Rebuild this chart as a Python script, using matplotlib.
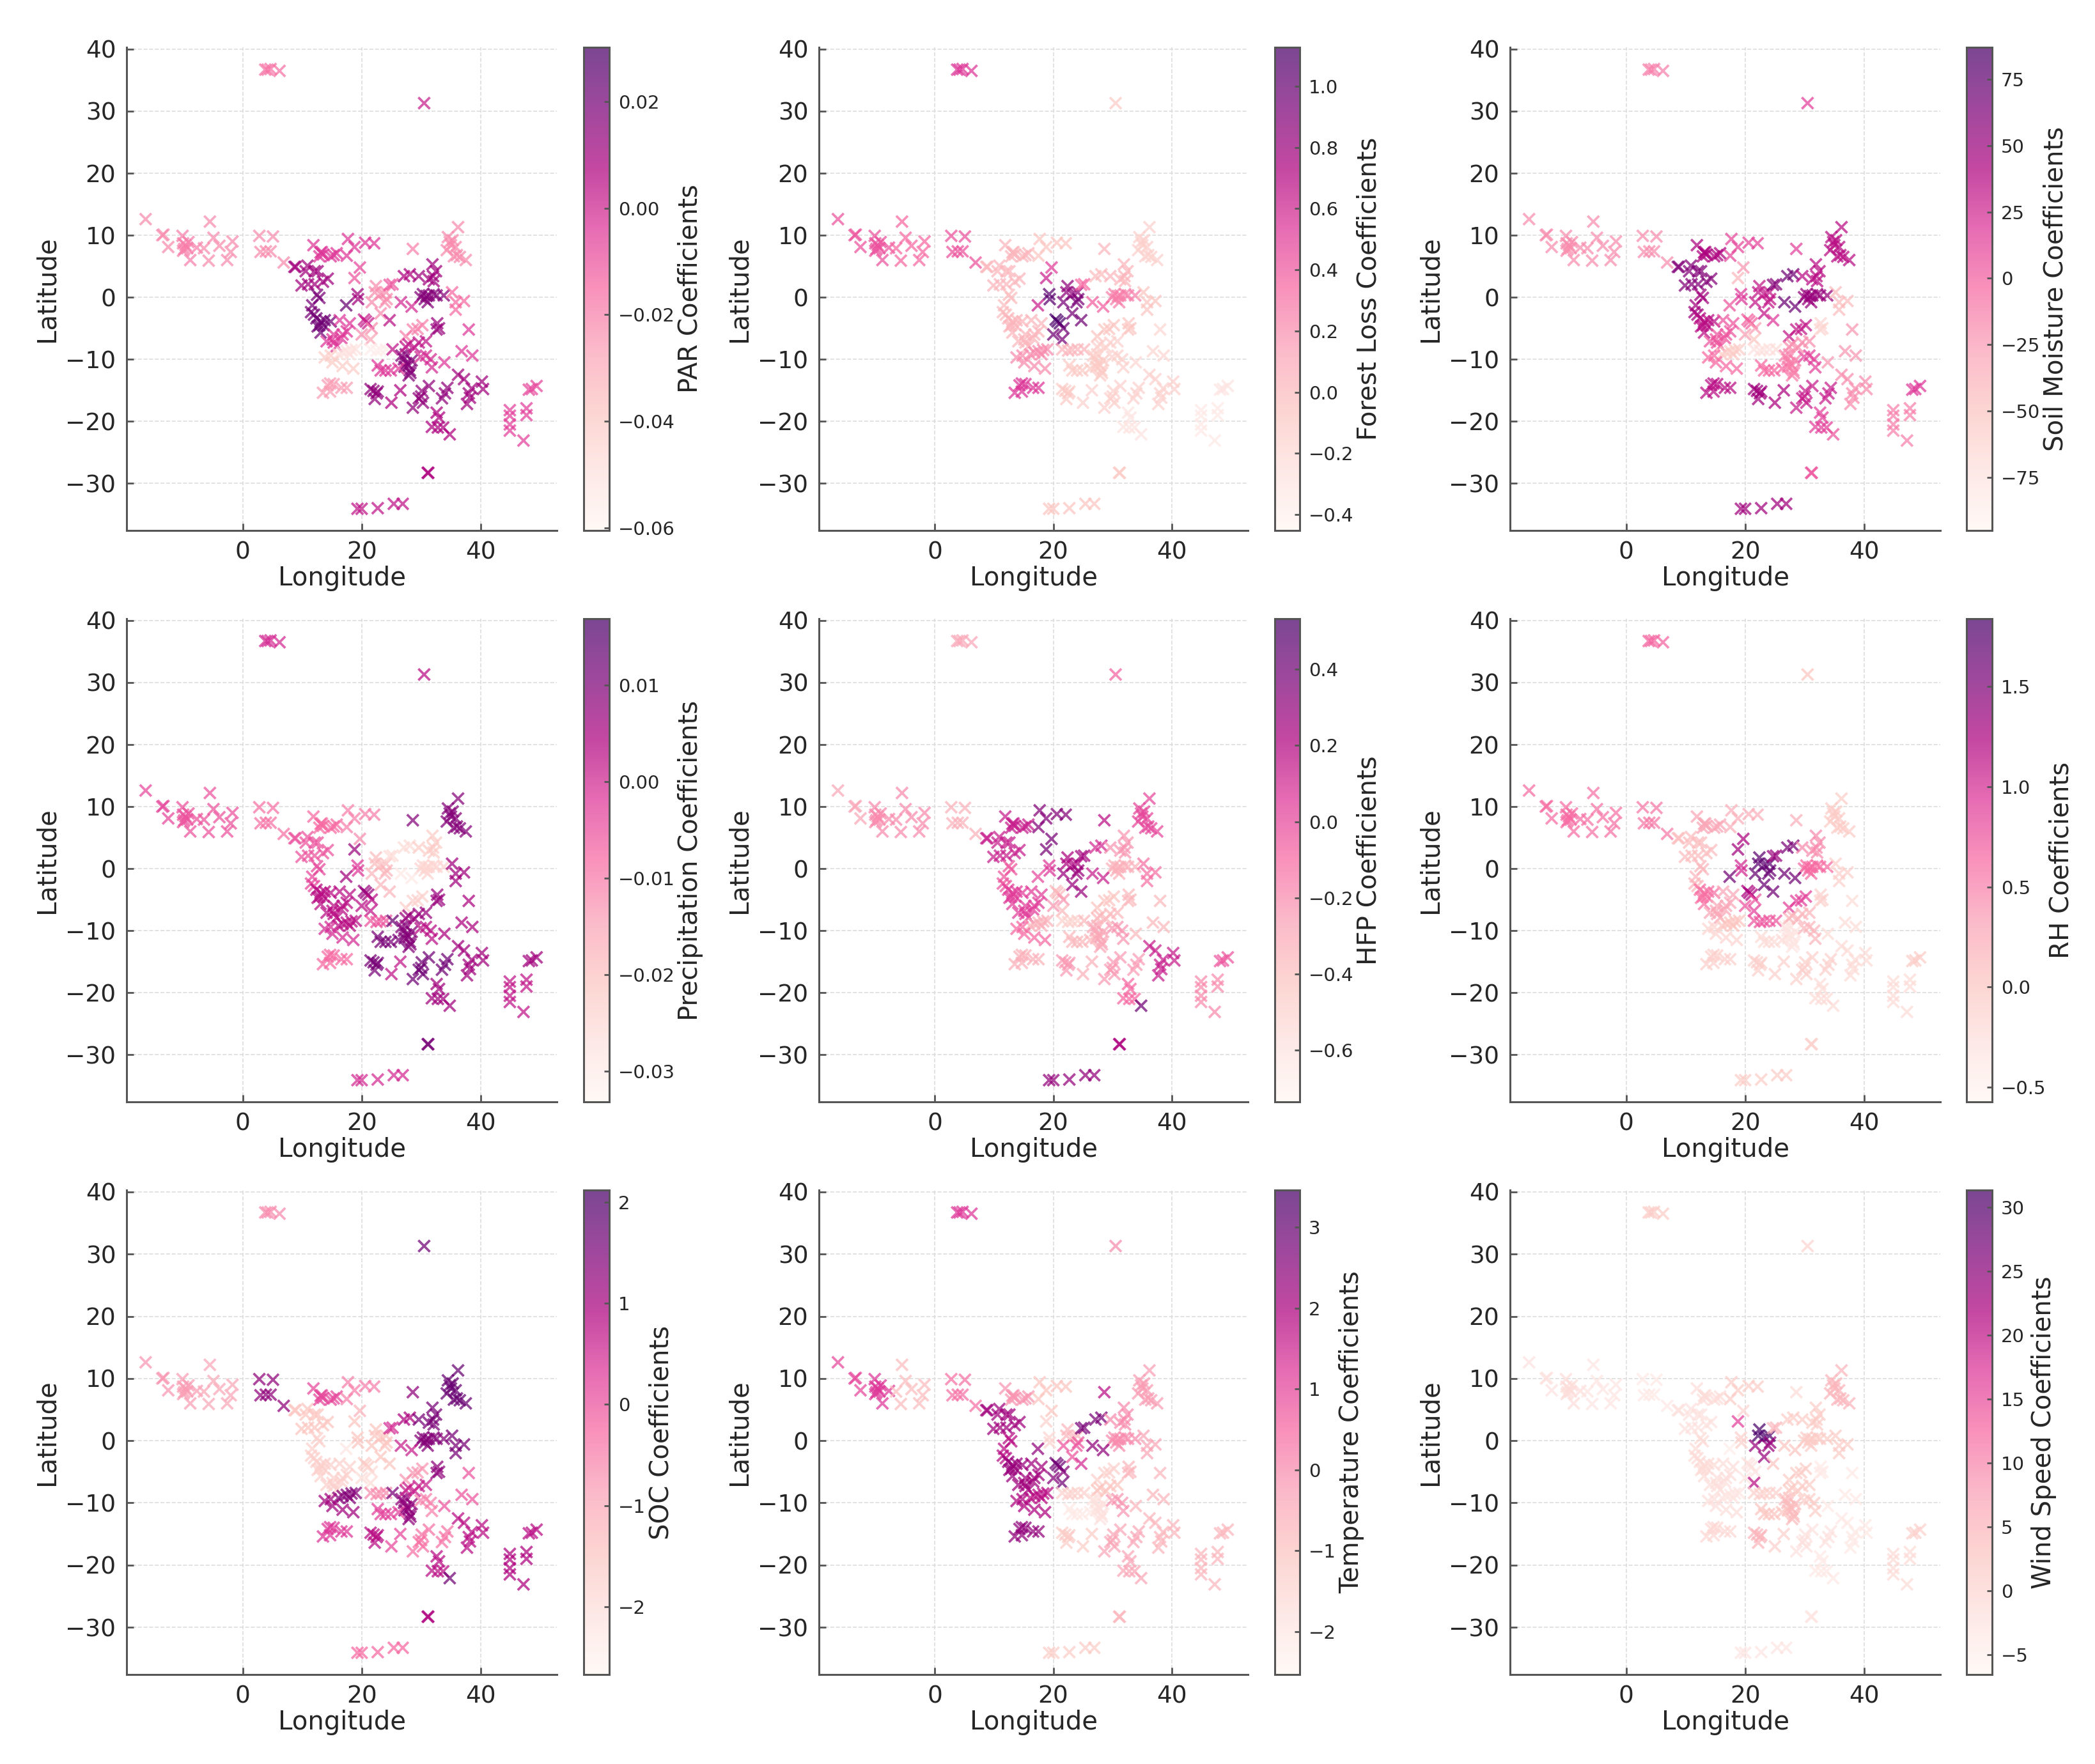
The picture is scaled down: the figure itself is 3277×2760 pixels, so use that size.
#!/bin/env python3

import matplotlib
matplotlib.use('Agg')
import matplotlib.pyplot as plt
import numpy as np

# sites, grouped by area; one coefficient per area in every panel (estimated from the colours)
LON = [
    [3.8, 4.2, 4.7, 6.2], [30.5], [-16.3, -13.5, -13.3, -12.5],
    [-10.1, -9.6, -9.8, -9.3, -9.1, -10, -8.8, -7.7, -10],
    [-6.5, -5.7, -5.5, -4.9, -3.9, -1.7, -2.0, -2.6], [2.8, 5.1, 3, 3.9, 4.7, 6.9],
    [8.9, 8.7, 10.9, 10.6, 12.1, 12.6, 9.9, 12.1, 14.3, 13.5, 11], [12.5, 12.9, 11.5, 11.7, 12],
    [12.4, 13.1, 13.8, 12.9, 13.6, 12.6, 14.8, 13.1],
    [16.3, 18, 16.8, 15.3, 14.1, 15.3, 15.1, 15.8, 16.6, 17.5], [16.8, 17.5, 18.3, 19, 16.1, 18],
    [13.8, 15.1, 16.8, 18.6, 14.8], [14.7, 14.3, 15.3, 13.5, 14.7, 16.6, 17.5],
    [11.9, 13.1, 13.3, 12.9, 13.5, 14.8, 15.3, 15.8], [17.5, 17.7, 18.8, 20.6, 22.1],
    [19.7], [18.8], [19.3, 19.4], [17.4], [22.4, 22.2, 23.2, 24.1], [21.7, 24.2, 23.9, 23.2],
    [24.7], [25.2, 24.7], [20.4, 20.7, 21.1], [21.7, 20], [21.5], [21.5, 22.5, 23.2, 24.1], [25.2],
    [27.1, 27.9, 27.4, 28.4, 27.9, 28.1, 26.7, 27.5, 27.2, 28.2], [22.7, 23.2, 24.9, 26.2, 24],
    [27.4, 28.6, 30.2, 29.4], [27.9, 29.6, 30.8, 28.9, 27.4], [30.8, 31.6, 31.8, 29.9],
    [32.7, 33, 32.6], [38, 36.8, 38.6, 33.9],
    [29.9, 30.6, 31.3, 32.1, 31.1, 30.3, 32.6, 33.8, 30.9], [26.6, 28.4], [27.1, 28.1],
    [29.6, 31.3, 32.1, 31.9, 32.5, 32], [28.6],
    [36.2, 34.5, 34.8, 35.3, 34.3, 35, 35.8, 36, 35.5, 37.5, 36.5], [35.2, 35.8, 37.2, 35.8],
    [36.2, 37.2, 40.2, 40.4, 38.5, 38, 38.2, 37.7],
    [34.4, 33.5, 34, 31.3, 30.1, 29.6, 30.3, 28.6, 30], [26.5, 25], [21.5, 22.7, 22.5, 22.2, 22],
    [32.6, 33, 31.8, 32.8, 33.7], [34.8], [44.9, 44.9, 44.9, 44.9, 47.7, 47.7, 47.2],
    [48.1, 48.6, 49.4], [31.2, 31.1], [19.3, 20, 22.7, 25.4, 26.9],
]
LAT = [
    [36.7, 36.7, 36.8, 36.5], [31.3], [12.6, 10, 10.1, 8.1],
    [9.9, 8.4, 7.8, 7.9, 8.9, 8.7, 6.0, 8.0, 7.5],
    [7.9, 5.9, 12.2, 9.6, 8.3, 9, 7.3, 6.0], [9.9, 9.8, 7.3, 7.4, 7.4, 5.6],
    [4.9, 4.9, 5.1, 4.2, 4.2, 4.2, 1.9, 2.1, 3.0, 2.5, 2.1], [0.4, -0.1, -2.4, -1.3, -2.8],
    [-3.4, -3.9, -3.7, -4.5, -4.5, -4.7, -3.9, -5.7],
    [-3.7, -4.2, -6, -6, -7.1, -7.3, -6.8, -7.9, -6.6, -5.5], [-8.9, -8.7, -8.5, -8.4, -9.2, -9.2],
    [-9.7, -10.5, -11.1, -11.5, -9.4], [-13.9, -14.2, -14, -15.4, -15.2, -14.6, -14.6],
    [8.4, 7.2, 7.3, 6.6, 6.9, 6.6, 6.8, 7.1], [6.7, 9.4, 8.1, 8.8, 8.7],
    [4.8], [3.1], [0.5, -0.3], [-1.3], [1.8, 0.8, 0.5, 0.8], [-0.8, -0.3, -0.8, -2.6],
    [-3.7], [2.1, 2], [-3.6, -3.9, -4.2], [-5, -6], [-6.8], [-8.4, -8.6, -8.5, -8.4], [-8.4],
    [-10, -11, -9.2, -10.2, -12.6, -11.8, -9.4, -10.6, -11.2, -12.2], [-11, -11.8, -11.8, -11.5, -11.8],
    [-6.3, -5.2, -4.5, -5.1], [-7.6, -7.3, -7.1, -8.1, -8], [-9.4, -10, -11.3, -9.6],
    [-4.2, -5, -5.2], [-5.2, -8.7, -9.4, -10.5],
    [0, -0.3, 0.3, 0.5, -0.8, 0.5, 0.3, 0.3, 0.2], [-0.8, -1.5], [3.4, 3.7],
    [3.4, 2.9, 2.6, 5.3, 4.2, 3.4], [7.8],
    [11.3, 9.7, 8.9, 9.2, 7.6, 8.4, 8.1, 6.8, 6.6, 6, 6.5], [0.8, -0.8, -0.6, -2],
    [-12.5, -13.2, -13.6, -14.8, -14.7, -15.5, -16.2, -17.2],
    [-14.6, -16.3, -15.5, -14.3, -15.1, -16.3, -17, -17.8, -16], [-15, -17], [-14.8, -15.2, -15.5, -16.4, -15.1],
    [-18.6, -19.4, -20.9, -21, -21], [-22.1], [-18.2, -19.1, -20.5, -21.5, -17.9, -19, -23.1],
    [-14.9, -14.8, -14.3], [-28.3, -28.3], [-34.1, -34.1, -34, -33.3, -33.3],
]

PAR = [-.0170, .0012, -.0224, -.0197, -.0224, -.0224, .0102, .0193, .0211, -.0043, -.0496, -.0405, -.0260,
       -.0043, -.0043, -.0079, -.0106, .0102, .0229, -.0224, -.0224, .0048, -.0106, .0012, -.0224, -.0288,
       -.0560, .0030, .0166, -.0043, -.0197, .0030, -.0015, .0121, -.0043, .0166, -.0015, .0075, .0102,
       -.0197, -.0224, -.0152, .0102, .0139, .0075, .0139, .0075, .0075, -.0061, -.0079, .0075, .0030]
FOREST_LOSS = [.53, -.10, .42, .42, .34, .42, .02, -.01, .02, .02, .21, .21, .53, .02, -.06, .50, .62, 1.05, .62,
               .84, .94, .97, .34, 1.12, .97, .94, .02, .02, -.10, -.10, -.06, -.14, -.14, -.06, -.18, .26, .37,
               -.01, .02, .02, -.14, -.06, -.14, -.14, -.14, -.10, -.29, -.29, -.33, -.29, -.10, -.06]
SOIL_MOISTURE = [-13, 14, -19, -19, -19, -19, 60, 47, 36, 5, -55, -4, 36, 42, 11, -22, -40, 18, 5, 32, 32, 18, 60, 0,
                 -26, -49, -73, -68, -13, -4, 32, -19, 14, -62, -22, 51, 72, 69, 36, 14, 36, -44, -19, 29, 42, 47,
                 14, 5, -13, 18, 5, 47]
PRECIP = [-.0006, .0029, -.0041, -.0056, -.0056, -.0092, -.0056, -.0041, .0029, .0029, .0029, -.0006, -.0082,
          -.0082, -.0107, -.0122, .0069, -.0021, .0059, -.0192, -.0182, -.0182, -.0257, .0069, .0029, .0019,
          -.0056, .0129, .0094, .0109, -.0232, .0069, .0029, .0069, .0044, -.0242, -.0292, -.0257, -.0222, .0094,
          .0094, .0059, .0059, .0119, .0019, .0109, .0059, .0059, .0019, .0059, .0109, -.0006]
HFP = [-.29, -.08, -.29, -.20, -.20, -.33, .13, -.04, .03, .03, -.33, -.10, -.33, .13, .34, .38, .38, .05, 0.0, .22,
       .28, .28, .25, -.36, -.23, -.36, -.48, -.36, -.29, -.36, -.42, -.36, -.23, -.36, -.36, -.33, .13, .09, -.23,
       .18, 0.0, -.13, .13, -.25, -.33, -.25, -.10, .41, -.20, -.04, .22, .30]
RH = [.66, .03, .62, .62, .58, .55, .10, .15, .58, .27, .03, -.14, -.09, .27, .20, 1.24, 1.31, 1.0, 1.60, 1.72, 1.65,
      1.60, 1.36, 1.24, .75, .87, .75, .75, -.33, -.21, .87, .15, .15, -.09, -.21, .63, 1.60, 1.55, .44, .20, -.04,
      -.09, -.21, -.09, -.09, -.09, -.21, -.21, -.21, -.04, -.09, -.04]
SOC = [-.66, 1.64, -.75, -.85, -.99, 1.26, -1.47, -1.71, -1.71, -1.71, 1.40, 1.07, .30, .11, -.51, -1.14, -1.47, -1.47,
       -2.19, -1.47, -1.47, -1.47, .44, -1.62, -1.95, -1.95, -.66, 1.55, 1.26, .20, -.75, .59, -.51, 1.26, -.04, 1.40,
       .59, .92, 1.55, 1.26, 1.74, 1.55, .78, -.37, .11, .78, .78, 1.64, .92, .78, .92, -.27]
TEMPERATURE = [1.18, -.01, .94, 1.18, -.85, .35, 2.14, 1.78, 2.26, 2.14, 1.78, 1.96, 2.38, -.13, -1.03, -1.03, -1.33,
               -1.45, 2.38, -.73, .76, 1.36, 2.74, 2.86, 2.56, 2.86, -1.33, -1.33, -1.81, -2.05, -1.33, -1.03, -.13,
               -.73, -.73, -.01, 2.38, 2.74, -.01, 1.78, -.25, -.43, -.73, -.43, -1.21, -1.21, -.43, -.43, -.73, -.73,
               -.73, -1.21]
WIND_SPEED = [1.8, .3, -2.0, -1.3, -2.8, -3.5, -2.0, -.9, -.9, -1.6, -2.8, -1.6, -.1, -1.3, 1.8, .3, 16.2, 1.0, -4.7,
              31.3, 23.8, 2.9, 4.8, -2.0, -2.8, 20.7, 1.0, 1.0, 4.1, 2.9, 1.8, 1.8, 1.8, -3.5, -3.5, 1.8, 2.9, 1.8, 1.8,
              -.9, 4.8, 1.8, -3.5, -2.0, 1.0, 4.8, -3.5, -3.5, -.9, 1.0, -2.8, -2.8]

LABELS = ['PAR Coefficients', 'Forest Loss Coefficients', 'Soil Moisture Coefficients',
          'Precipitation Coefficients', 'HFP Coefficients', 'RH Coefficients',
          'SOC Coefficients', 'Temperature Coefficients', 'Wind Speed Coefficients']
VALUES = [PAR, FOREST_LOSS, SOIL_MOISTURE, PRECIP, HFP, RH, SOC, TEMPERATURE, WIND_SPEED]
VMIN = [-.0605, -.452, -95, -.0332, -.736, -.573, -2.67, -2.53, -6.57]
VMAX = [.0302, 1.127, 87, .0169, .533, 1.839, 2.12, 3.46, 31.36]
CB_TICKS = [[-.06, -.04, -.02, 0, .02],
            [-.4, -.2, 0, .2, .4, .6, .8, 1.0],
            [-75, -50, -25, 0, 25, 50, 75],
            [-.03, -.02, -.01, 0, .01],
            [-.6, -.4, -.2, 0, .2, .4],
            [-.5, 0, .5, 1, 1.5],
            [-2, -1, 0, 1, 2],
            [-2, -1, 0, 1, 2, 3],
            [-5, 0, 5, 10, 15, 20, 25, 30]]
CB_DECIMALS = [2, 1, 0, 2, 1, 1, 0, 0, 0]

W, H = 3277, 2760
COL_X = [(198, 871, 913, 953), (1281, 1952, 1994, 2033), (2362, 3035, 3076, 3116)]
ROW_Y = [(74, 830), (968, 1724), (1862, 2620)]
DARK = '#555555'


def tick_format(decimals):
    # real minus sign, same as the axis ticks
    return lambda v, pos: f'{v:.{decimals}f}'.replace('-', '\u2212')


fig = plt.figure(figsize=(W / 200, H / 200), dpi=200)
lon = np.concatenate(LON)
lat = np.concatenate(LAT)
counts = [len(g) for g in LON]

for i, label in enumerate(LABELS):
    x0, x1, c0, c1 = COL_X[i % 3]
    y0, y1 = ROW_Y[i // 3]
    ax = fig.add_axes([x0 / W, 1 - y1 / H, (x1 - x0) / W, (y1 - y0) / H])
    sc = ax.scatter(lon, lat, c=np.repeat(VALUES[i], counts), cmap='RdPu', vmin=VMIN[i], vmax=VMAX[i],
                    marker='x', s=42, linewidths=1.35, alpha=0.72, zorder=3)
    ax.set_xlim(-19.5, 52.8)
    ax.set_ylim(-37.6, 40.3)
    ax.set_xticks([0, 20, 40])
    ax.set_yticks(range(-30, 41, 10))
    ax.grid(True, linestyle='--', linewidth=0.6, color='#dddddd', zorder=0)
    ax.tick_params(direction='in', length=4, width=1, color=DARK, labelcolor='#262626', labelsize=13.5, pad=6)
    ax.spines[['top', 'right']].set_visible(False)
    ax.spines[['left', 'bottom']].set_color(DARK)
    ax.spines[['left', 'bottom']].set_linewidth(1.1)
    ax.set_xlabel('Longitude', fontsize=14.5, color='#262626', labelpad=1)
    ax.set_ylabel('Latitude', fontsize=14.5, color='#262626', labelpad=3)

    cax = fig.add_axes([c0 / W, 1 - y1 / H, (c1 - c0) / W, (y1 - y0) / H])
    cb = fig.colorbar(sc, cax=cax, ticks=CB_TICKS[i], format=tick_format(CB_DECIMALS[i]))
    cb.outline.set_edgecolor(DARK)
    cb.outline.set_linewidth(1.1)
    cb.ax.tick_params(direction='in', length=3, width=1, color=DARK, labelcolor='#262626', labelsize=10.5, pad=5)
    cb.set_label(label, fontsize=14.5, color='#262626', labelpad=1.5)

fig.savefig('out.png', dpi=200, facecolor='white')
